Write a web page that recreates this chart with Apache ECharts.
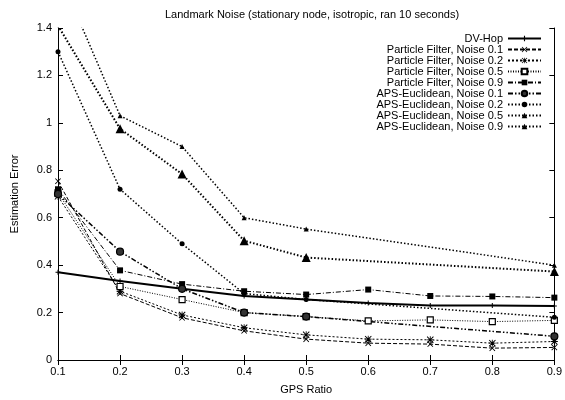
<!DOCTYPE html>
<html>
<head>
<meta charset="utf-8">
<script src="https://cdn.jsdelivr.net/npm/echarts@6/dist/echarts.min.js"></script>
<style>
  html, body { margin: 0; padding: 0; background: #fff; }
  #chart { width: 565px; height: 400px; }
</style>
</head>
<body>
<div id="chart"></div>
<script>
const gpsRatio = ['0.1', '0.2', '0.3', '0.4', '0.5', '0.6', '0.7', '0.8', '0.9'];

const dvHop = [0.37, 0.333, 0.30, 0.27, 0.255, 0.24, 0.23, 0.23, 0.228];
const pfNoise01 = [0.754, 0.28, 0.178, 0.123, 0.088, 0.071, 0.067, 0.05, 0.053];
const pfNoise02 = [0.69, 0.29, 0.19, 0.136, 0.106, 0.088, 0.085, 0.071, 0.078];
const pfNoise05 = [0.705, 0.31, 0.255, 0.20, 0.183, 0.165, 0.169, 0.162, 0.167];
const pfNoise09 = [0.72, 0.378, 0.32, 0.29, 0.276, 0.297, 0.27, 0.268, 0.263];
const apsNoise01 = [0.70, 0.457, 0.30, 0.20, 0.183, null, null, null, 0.10];
const apsNoise02 = [1.30, 0.72, 0.49, 0.28, 0.255, null, null, null, 0.18];
const apsNoise05 = [1.41, 0.975, 0.784, 0.503, 0.432, null, null, null, 0.373];
const apsNoise09 = [1.64, 1.03, 0.90, 0.60, 0.552, null, null, null, 0.40];

// marker shapes gnuplot uses that echarts has no name for
const symPlus = 'path://M4,0H6V4H10V6H6V10H4V6H0V4H4Z';
const symCross = 'path://M1,0L5,4L9,0L10,1L6,5L10,9L9,10L5,6L1,10L0,9L4,5L0,1Z';
const symStar = 'path://M1,0L5,4L9,0L10,1L6,5L10,9L9,10L5,6L1,10L0,9L4,5L0,1Z M4.4,0H5.6V10H4.4Z M0,4.4H10V5.6H0Z';

function makeSeries(name, data, lineType, width, symbol, size, fill) {
    return {
        name: name,
        type: 'line',
        data: data,
        connectNulls: true,
        symbol: symbol,
        symbolSize: size,
        showAllSymbol: true,
        lineStyle: { color: '#000', width: width, type: lineType },
        itemStyle: { color: fill || '#000', borderColor: '#000', borderWidth: fill ? 1.2 : 0 },
        emphasis: { disabled: true },
        animation: false
    };
}

const chart = echarts.init(document.getElementById('chart'));

const option = {
    backgroundColor: '#fff',
    textStyle: { fontFamily: 'Liberation Sans, Arial, sans-serif' },
    title: {
        text: 'Landmark Noise (stationary node, isotropic, ran 10 seconds)',
        left: 307,
        textAlign: 'center',
        top: 4,
        textStyle: { fontSize: 11, fontWeight: 'normal', color: '#000' }
    },
    legend: {
        orient: 'vertical',
        right: 18,
        top: 28,
        align: 'right',
        itemWidth: 33,
        itemHeight: 7,
        itemGap: 0,
        textStyle: { fontSize: 11, lineHeight: 10.7, color: '#000' },
        data: ['DV-Hop', 'Particle Filter, Noise 0.1', 'Particle Filter, Noise 0.2',
               'Particle Filter, Noise 0.5', 'Particle Filter, Noise 0.9',
               'APS-Euclidean, Noise 0.1', 'APS-Euclidean, Noise 0.2',
               'APS-Euclidean, Noise 0.5', 'APS-Euclidean, Noise 0.9']
    },
    grid: { left: 58, right: 8, top: 28, bottom: 37 },
    xAxis: [
        {
            type: 'category',
            data: gpsRatio,
            boundaryGap: false,
            name: 'GPS Ratio',
            nameLocation: 'middle',
            nameGap: 24,
            nameTextStyle: { fontSize: 11, color: '#000' },
            axisLine: { lineStyle: { color: '#000', width: 1 } },
            axisTick: { inside: true, length: 5, lineStyle: { color: '#000' } },
            axisLabel: { fontSize: 11, color: '#000', margin: 6 },
            splitLine: { show: false }
        },
        {
            type: 'category',
            data: gpsRatio,
            boundaryGap: false,
            position: 'top',
            axisLine: { lineStyle: { color: '#000', width: 1 } },
            axisTick: { inside: true, length: 5, lineStyle: { color: '#000' } },
            axisLabel: { show: false },
            splitLine: { show: false }
        }
    ],
    yAxis: [
        {
            type: 'value',
            min: 0,
            max: 1.4,
            interval: 0.2,
            name: 'Estimation Error',
            nameLocation: 'middle',
            nameGap: 38,
            nameTextStyle: { fontSize: 11, color: '#000' },
            axisLine: { show: true, lineStyle: { color: '#000', width: 1 } },
            axisTick: { show: true, inside: true, length: 5, lineStyle: { color: '#000' } },
            axisLabel: { fontSize: 11, color: '#000', margin: 6 },
            splitLine: { show: false }
        },
        {
            type: 'value',
            min: 0,
            max: 1.4,
            interval: 0.2,
            position: 'right',
            axisLine: { show: true, lineStyle: { color: '#000', width: 1 } },
            axisTick: { show: true, inside: true, length: 5, lineStyle: { color: '#000' } },
            axisLabel: { show: false },
            splitLine: { show: false }
        }
    ],
    series: [
        makeSeries('DV-Hop', dvHop, 'solid', 2, symPlus, 5),
        makeSeries('Particle Filter, Noise 0.1', pfNoise01, [4, 2], 1, symCross, 6),
        makeSeries('Particle Filter, Noise 0.2', pfNoise02, [2, 2], 1, symStar, 7),
        makeSeries('Particle Filter, Noise 0.5', pfNoise05, [1, 1.5], 1, 'rect', 6, '#fff'),
        makeSeries('Particle Filter, Noise 0.9', pfNoise09, [5, 2, 1, 2], 1, 'rect', 6),
        makeSeries('APS-Euclidean, Noise 0.1', apsNoise01, [5, 2, 1.5, 2, 1.5, 2], 1.5, 'circle', 7, '#333'),
        makeSeries('APS-Euclidean, Noise 0.2', apsNoise02, [1.5, 2], 1.5, 'circle', 5),
        makeSeries('APS-Euclidean, Noise 0.5', apsNoise05, [1.5, 2], 2, 'triangle', 9),
        makeSeries('APS-Euclidean, Noise 0.9', apsNoise09, [1.5, 2], 1.5, 'triangle', 5)
    ]
};

chart.setOption(option);
</script>
</body>
</html>
